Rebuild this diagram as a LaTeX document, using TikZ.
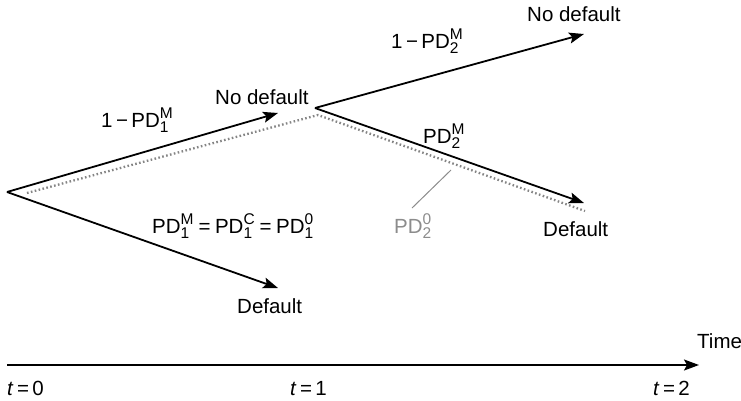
\documentclass[tikz,border=0pt]{standalone}
\usepackage{fontspec}
\usepackage{amsmath}
\setmainfont{Liberation Sans}
\DeclareMathSizes{20.5}{20.5}{15.5}{11}
\usetikzlibrary{arrows.meta}
\tikzset{
  branch/.style={line width=1.8pt, -{Stealth[length=15pt,width=11pt,inset=3pt]}},
  pathdot/.style={line width=2.3pt, color=black!48, dash pattern=on 1.6pt off 2.4pt},
  lbl/.style={inner sep=0pt, anchor=base west},
  grey/.style={color=black!45},
}
\newcommand{\pd}[2]{\text{PD}^{\text{#2}}_{\text{#1}}}
\newcommand{\eqsym}{\text{\hspace{4.5pt}=\hspace{4.5pt}}}
\begin{document}
\begin{tikzpicture}[x=1pt,y=-1pt,font=\fontsize{20.5}{24}\selectfont]
\useasboundingbox (0,0) rectangle (741,400);
% tree points
\coordinate (root) at (7,192);
\coordinate (mid) at (315,108);
\coordinate (upend) at (278,113);
\coordinate (lowend) at (278,288);
\coordinate (nnend) at (584,34);
\coordinate (ndend) at (584,203);
% dotted path of the original-probability branch
\coordinate (d0) at (27,193);
\coordinate (d1) at (318,115);
\coordinate (d2) at (585,211);
\draw[pathdot] (d0) -- (d1) -- (d2);
% branches
\draw[branch] (root) -- (upend);
\draw[branch] (root) -- (lowend);
\draw[branch] (mid) -- (nnend);
\draw[branch] (mid) -- (ndend);
% labels
\node[lbl] (nd1) at (215,104) {No default};
\node[lbl] (nd2) at (527,21) {No default};
\node[lbl] (df1) at (237,313) {Default};
\node[lbl] (df2) at (543,236) {Default};
\node[lbl] (p1) at (101,127) {1\,−\,$\pd{1}{M}$};
\node[lbl] (p2) at (391,48) {1\,−\,$\pd{2}{M}$};
\node[lbl] (p3) at (423,143) {$\pd{2}{M}$};
\node[lbl] (p4) at (152,233) {$\pd{1}{M}\eqsym\pd{1}{C}\eqsym\pd{1}{0}$};
\node[lbl,grey] (p5) at (394,233) {$\pd{2}{0}$};
% leader from the dotted branch to its label
\coordinate (lead0) at (451,170);
\coordinate (lead1) at (412,208);
\draw[grey, line width=1pt] (lead0) -- (lead1);
% time axis
\coordinate (t0) at (7,365);
\coordinate (tend) at (699,365);
\draw[branch] (t0) -- (tend);
\node[lbl] (time) at (697,348) {Time};
\node[lbl] (l0) at (7,395) {\textit{t}\,=\,0};
\node[lbl] (l1) at (290,395) {\textit{t}\,=\,1};
\node[lbl] (l2) at (653,395) {\textit{t}\,=\,2};
\end{tikzpicture}
\end{document}
